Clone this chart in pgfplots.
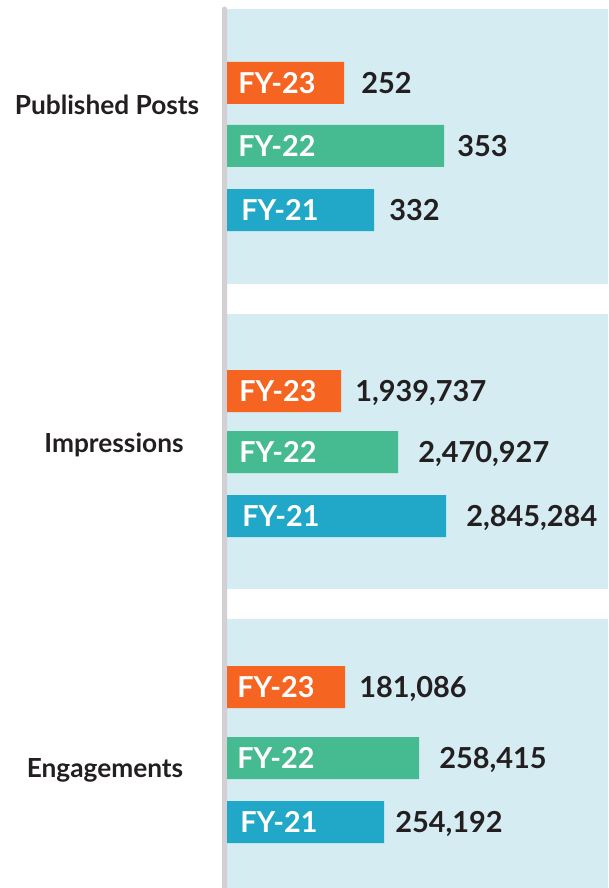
\documentclass[border=0pt]{standalone}
\usepackage{fontspec}
\setmainfont{Lato}
\usepackage{pgfplots}
\pgfplotsset{compat=1.18}
\definecolor{cor}{HTML}{F56421}
\definecolor{cgr}{HTML}{46BA91}
\definecolor{cbl}{HTML}{21A8C8}
\definecolor{cbg}{HTML}{D4ECF2}
\definecolor{cln}{HTML}{D3CFD3}
\definecolor{ctx}{HTML}{231F20}
\begin{document}
\begin{tikzpicture}
\begin{axis}[
  scale only axis, width=456pt, height=666pt,
  xmin=-227, xmax=381, ymin=0, ymax=888, y dir=reverse,
  hide axis, clip=true,
  xbar, bar shift=0pt, bar width=42,
]
\fill[cbg] (axis cs:0,9) rectangle (axis cs:381,284);
\fill[cbg] (axis cs:0,314) rectangle (axis cs:381,589);
\fill[cbg] (axis cs:0,619) rectangle (axis cs:381,888);
\fill[cln] (axis cs:-5,888) -- (axis cs:-5,9) arc[start angle=180, end angle=0, radius=1.875pt] -- (axis cs:0,888) -- cycle;
% bar lengths in px as drawn, y = bar centre
\addplot[fill=cor, draw=none] coordinates {(117,83) (114,391) (118,687)};
\addplot[fill=cgr, draw=none] coordinates {(217,146) (171,452) (192,758)};
\addplot[fill=cbl, draw=none] coordinates {(147,210) (219,516) (157,822)};
% in-bar labels
\begin{scope}[every node/.style={anchor=base west, inner sep=0pt, text=white, font=\bfseries\fontsize{21.6}{26}\selectfont}]
\node at (axis cs:11,93.5) {FY-23};
\node at (axis cs:11,156.5) {FY-22};
\node at (axis cs:14,220.5) {FY-21};
\node at (axis cs:12,401.5) {FY-23};
\node at (axis cs:12,462.5) {FY-22};
\node at (axis cs:15,526.5) {FY-21};
\node at (axis cs:10,697.5) {FY-23};
\node at (axis cs:10,768.5) {FY-22};
\node at (axis cs:13,832.5) {FY-21};
\end{scope}
\begin{scope}[every node/.style={anchor=base west, inner sep=0pt, text=ctx, font=\bfseries\fontsize{21.7}{26}\selectfont}]
\node at (axis cs:134,93.5) {252};
\node at (axis cs:230,156.5) {353};
\node at (axis cs:162,220.5) {332};
\node at (axis cs:128,401.5) {1,939,737};
\node at (axis cs:191,462.5) {2,470,927};
\node at (axis cs:239,526.5) {2,845,284};
\node at (axis cs:132,697.5) {181,086};
\node at (axis cs:212,768.5) {258,415};
\node at (axis cs:168,832.5) {254,192};
\end{scope}
\begin{scope}[every node/.style={anchor=base, inner sep=0pt, text=ctx, font=\bfseries\fontsize{19.7}{24}\selectfont}]
\node at (axis cs:-120,115) {Published Posts};
\node at (axis cs:-113,452) {Impressions};
\node at (axis cs:-122,777) {Engagements};
\end{scope}
\end{axis}
\pgfresetboundingbox
\path[use as bounding box] (current axis.south west) rectangle (current axis.north east);
\end{tikzpicture}
\end{document}
